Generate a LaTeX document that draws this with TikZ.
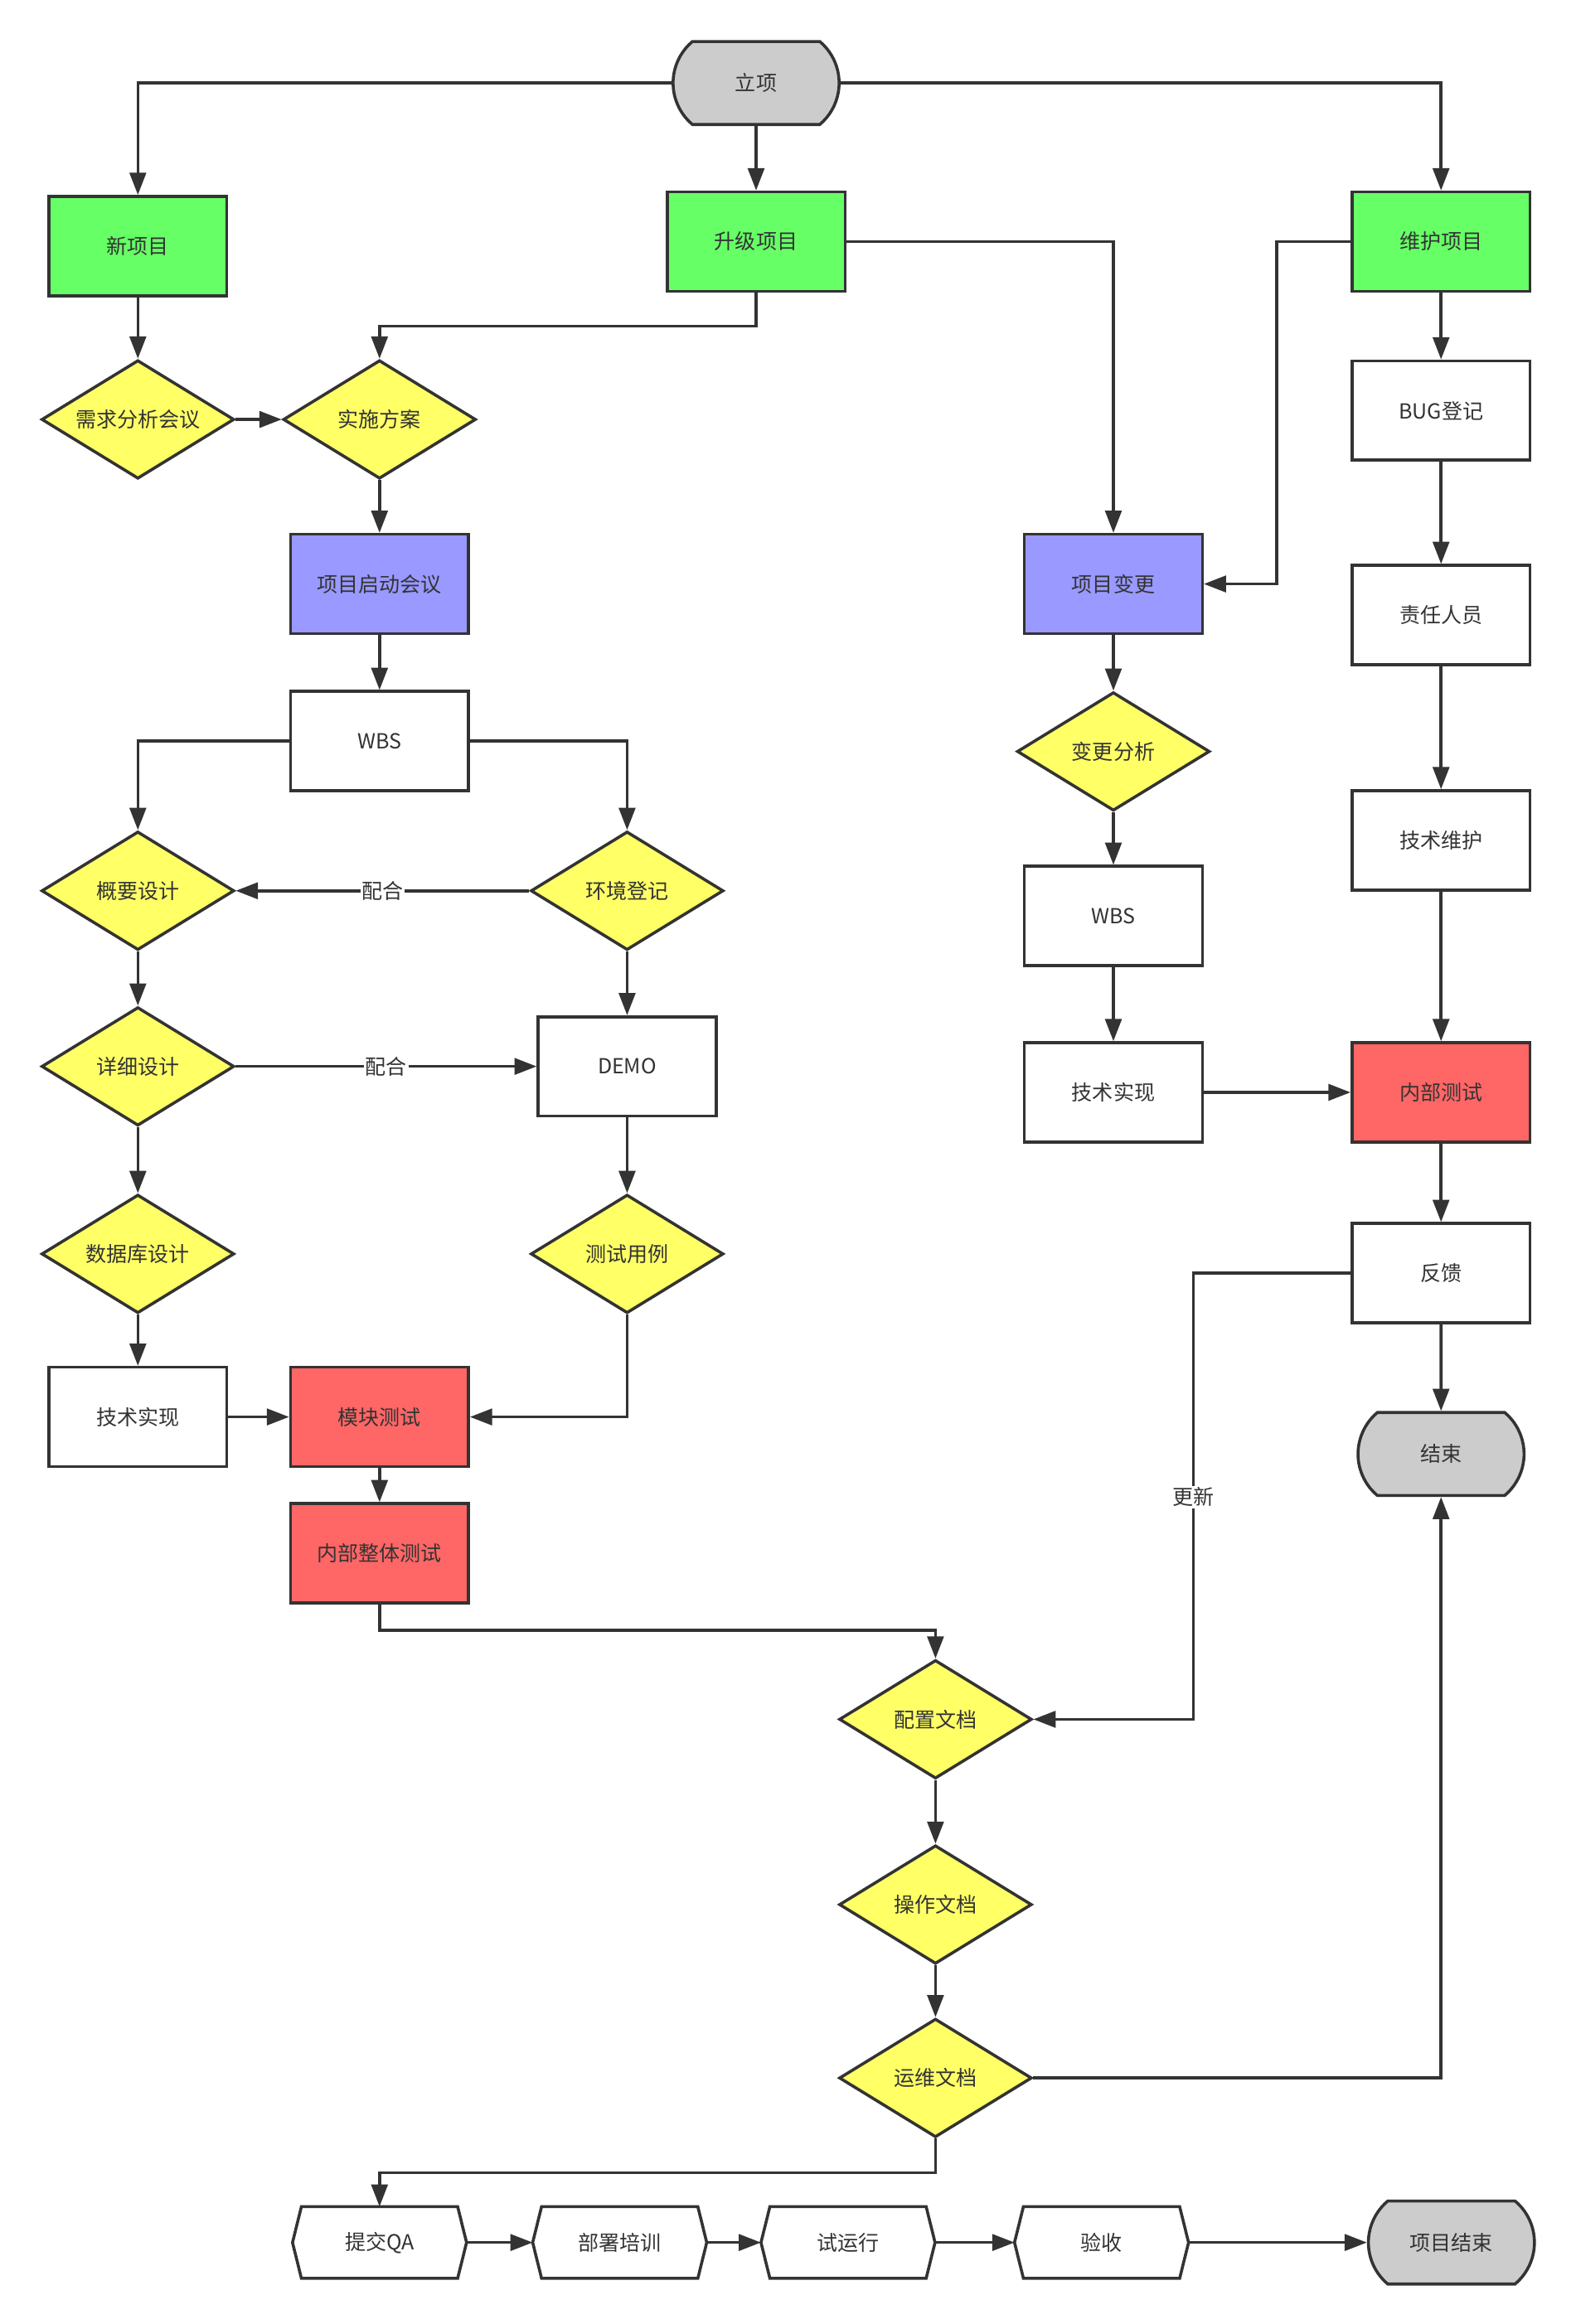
\documentclass[tikz,border=0pt]{standalone}
\usepackage{fontspec}
\setmainfont{Noto Sans CJK SC}
\usetikzlibrary{arrows.meta,shapes.geometric,shapes.misc}
\definecolor{ln}{HTML}{333333}
\definecolor{grn}{HTML}{66FF66}
\definecolor{blu}{HTML}{9999FF}
\definecolor{rd}{HTML}{FF6666}
\definecolor{yl}{HTML}{FFFF66}
\definecolor{gry}{HTML}{CCCCCC}
\begin{document}
\begin{tikzpicture}[x=1pt,y=-1pt,
  txt/.style={text=ln, font=\fontsize{14}{16}\selectfont},
  base/.style={txt, draw=ln, line width=2pt, inner sep=0pt},
  box/.style={base, rectangle, minimum width=120pt, minimum height=67pt, fill=white},
  gbox/.style={box, fill=grn},
  bbox/.style={box, fill=blu},
  rbox/.style={box, fill=rd},
  dia/.style={base, diamond, aspect=1.625, minimum width=130pt, minimum height=80pt, fill=yl},
  term/.style={base, rounded rectangle, rounded rectangle arc length=100, minimum width=112pt, minimum height=56pt, fill=gry},
  hexb/.style={txt, rectangle, inner sep=0pt, minimum width=117pt, minimum height=48pt},
  hexline/.style={draw=ln, line width=2pt, fill=white, line join=miter},
  conn/.style={draw=ln, line width=2pt, -{Triangle[length=15pt,width=11pt]}},
  lab/.style={txt, fill=white, inner sep=1pt}
]
\useasboundingbox (0,0) rectangle (1063,1568);

% top
\node[term] (lx) at (510,56) {立项};
\node[gbox] (xin) at (93,166) {新项目};
\node[gbox] (sj) at (510,163) {升级项目};
\node[gbox] (wh) at (972,163) {维护项目};

% left column
\node[dia] (xq) at (93,283) {需求分析会议};
\node[dia] (ss) at (256,283) {实施方案};
\node[bbox] (qd) at (256,394) {项目启动会议};
\node[box] (wbs1) at (256,500) {WBS};
\node[dia] (gy) at (93,601) {概要设计};
\node[dia] (hj) at (423,601) {环境登记};
\node[dia] (xx) at (93,719.5) {详细设计};
\node[box] (demo) at (423,719.5) {DEMO};
\node[dia] (sjk) at (93,846) {数据库设计};
\node[dia] (cs) at (423,846) {测试用例};
\node[box] (js1) at (93,956) {技术实现};
\node[rbox] (mk) at (256,956) {模块测试};
\node[rbox] (nbzt) at (256,1048) {内部整体测试};

% middle column
\node[bbox] (bg) at (751,394) {项目变更};
\node[dia] (bgfx) at (751,507) {变更分析};
\node[box] (wbs2) at (751,618) {WBS};
\node[box] (js2) at (751,737) {技术实现};

% right column
\node[box] (bug) at (972,277) {BUG登记};
\node[box] (zr) at (972,415) {责任人员};
\node[box] (jw) at (972,567) {技术维护};
\node[rbox] (nt) at (972,737) {内部测试};
\node[box] (fk) at (972,859) {反馈};
\node[term] (end) at (972,981) {结束};

% documents
\node[dia] (pz) at (631,1160) {配置文档};
\node[dia] (cz) at (631,1285) {操作文档};
\node[dia] (yw) at (631,1402) {运维文档};

% bottom row
\node[hexb] (qa) at (256,1513) {};
\node[hexb] (bs) at (418,1513) {};
\node[hexb] (syx) at (572,1513) {};
\node[hexb] (ys) at (743,1513) {};
\foreach \n in {qa,bs,syx,ys}{
  \draw[hexline] ([xshift=6pt]\n.north west) -- ([xshift=-6pt]\n.north east) -- (\n.east)
    -- ([xshift=-6pt]\n.south east) -- ([xshift=6pt]\n.south west) -- (\n.west) -- cycle;
}
\node[txt] at (qa) {提交QA};
\node[txt] at (bs) {部署培训};
\node[txt] at (syx) {试运行};
\node[txt] at (ys) {验收};
\node[term] (xmjs) at (979,1513) {项目结束};

% connectors
\draw[conn] (lx.west) -| (xin.north);
\draw[conn] (lx) -- (sj);
\draw[conn] (lx.east) -| (wh.north);
\draw[conn] (xin) -- (xq);
\draw[conn] (sj.south) -- (sj.south |- 0,220) -| (ss.north);
\draw[conn] (xq) -- (ss);
\draw[conn] (sj.east) -| (bg.north);
\draw[conn] (wh.west) -- ++(-50,0) |- (bg.east);
\draw[conn] (wh) -- (bug);
\draw[conn] (bug) -- (zr);
\draw[conn] (zr) -- (jw);
\draw[conn] (jw) -- (nt);
\draw[conn] (ss) -- (qd);
\draw[conn] (qd) -- (wbs1);
\draw[conn] (wbs1.west) -| (gy.north);
\draw[conn] (wbs1.east) -| (hj.north);
\draw[conn] (hj) -- node[lab]{配合} (gy);
\draw[conn] (gy) -- (xx);
\draw[conn] (xx) -- node[lab]{配合} (demo);
\draw[conn] (hj) -- (demo);
\draw[conn] (xx) -- (sjk);
\draw[conn] (sjk) -- (js1);
\draw[conn] (js1) -- (mk);
\draw[conn] (demo) -- (cs);
\draw[conn] (cs.south) |- (mk.east);
\draw[conn] (mk) -- (nbzt);
\draw[conn] (nbzt.south) -- (nbzt.south |- 0,1100) -| (pz.north);
\draw[conn] (bg) -- (bgfx);
\draw[conn] (bgfx) -- (wbs2);
\draw[conn] (wbs2) -- (js2);
\draw[conn] (js2) -- (nt);
\draw[conn] (nt) -- (fk);
\draw[conn] (fk) -- (end);
\draw[conn] (fk.west) -- (805,0 |- fk.west) |- (pz.east);
\node[lab] (gx) at (805,1010) {更新};
\draw[conn] (pz) -- (cz);
\draw[conn] (cz) -- (yw);
\draw[conn] (yw.east) -| (end.south);
\draw[conn] (yw.south) -- (yw.south |- 0,1466) -| (qa.north);
\draw[conn] (qa) -- (bs);
\draw[conn] (bs) -- (syx);
\draw[conn] (syx) -- (ys);
\draw[conn] (ys) -- (xmjs);
\end{tikzpicture}
\end{document}
